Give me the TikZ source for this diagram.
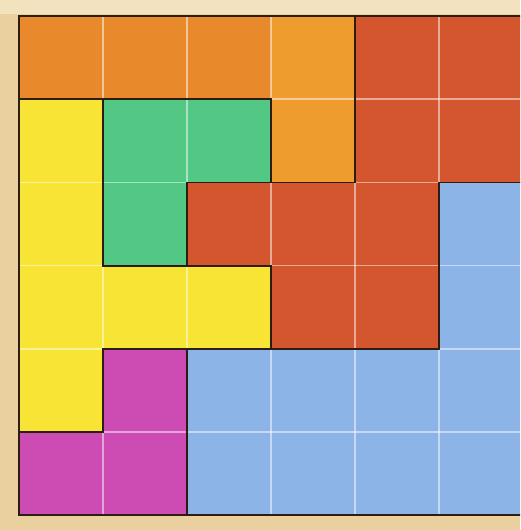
\documentclass[tikz,border=0pt]{standalone}
\definecolor{paper}{RGB}{233,208,158}
\definecolor{paperlight}{RGB}{242,226,190}
\definecolor{porange}{RGB}{232,138,44}
\definecolor{porangelt}{RGB}{238,156,46}
\definecolor{pred}{RGB}{212,86,46}
\definecolor{pyellow}{RGB}{248,228,52}
\definecolor{pgreen}{RGB}{82,200,132}
\definecolor{pblue}{RGB}{140,180,230}
\definecolor{pmagenta}{RGB}{204,76,180}
\definecolor{outline}{RGB}{45,28,18}
\tikzset{
  piece/.style={fill=#1, draw=none},
  gridline/.style={draw=white, draw opacity=0.5, line width=1.6pt},
  pieceedge/.style={draw=outline, line width=1.8pt, line join=miter},
}
\begin{document}
\begin{tikzpicture}[x=1pt,y=-1pt]
\useasboundingbox (0,0) rectangle (520,530);
\fill[paper] (0,0) rectangle (520,530);
\fill[paperlight] (0,0) rectangle (520,14);
\clip (0,0) rectangle (520,530);
\begin{scope}[shift={(19pt,-16pt)}, x=84pt, y=-83.2pt]
  % pieces
  \path[piece=porange] (0,0) -- (4,0) -- (4,2) -- (3,2) -- (3,1) -- (0,1) -- cycle;
  \path[piece=porangelt] (3,0) rectangle (4,2);
  \path[piece=pred] (4,0) -- (6,0) -- (6,2) -- (5,2) -- (5,4) -- (3,4) -- (3,3) -- (2,3) -- (2,2) -- (4,2) -- cycle;
  \path[piece=pgreen] (1,1) -- (3,1) -- (3,2) -- (2,2) -- (2,3) -- (1,3) -- cycle;
  \path[piece=pyellow] (0,1) -- (1,1) -- (1,3) -- (3,3) -- (3,4) -- (1,4) -- (1,5) -- (0,5) -- cycle;
  \path[piece=pmagenta] (1,4) -- (2,4) -- (2,6) -- (0,6) -- (0,5) -- (1,5) -- cycle;
  \path[piece=pblue] (5,2) -- (6,2) -- (6,6) -- (2,6) -- (2,4) -- (5,4) -- cycle;
  % light grid lines
  \foreach \i in {1,...,5} {
    \draw[gridline] (\i,0) -- (\i,6);
    \draw[gridline] (0,\i) -- (6,\i);
  }
  % piece outlines
  \draw[pieceedge] (0,0) -- (4,0) -- (4,2) -- (3,2) -- (3,1) -- (0,1) -- cycle;
  \draw[pieceedge] (4,0) -- (6,0) -- (6,2) -- (5,2) -- (5,4) -- (3,4) -- (3,3) -- (2,3) -- (2,2) -- (4,2) -- cycle;
  \draw[pieceedge] (1,1) -- (3,1) -- (3,2) -- (2,2) -- (2,3) -- (1,3) -- cycle;
  \draw[pieceedge] (0,1) -- (1,1) -- (1,3) -- (3,3) -- (3,4) -- (1,4) -- (1,5) -- (0,5) -- cycle;
  \draw[pieceedge] (1,4) -- (2,4) -- (2,6) -- (0,6) -- (0,5) -- (1,5) -- cycle;
  \draw[pieceedge] (5,2) -- (6,2) -- (6,6) -- (2,6) -- (2,4) -- (5,4) -- cycle;
\end{scope}
\end{tikzpicture}
\end{document}
